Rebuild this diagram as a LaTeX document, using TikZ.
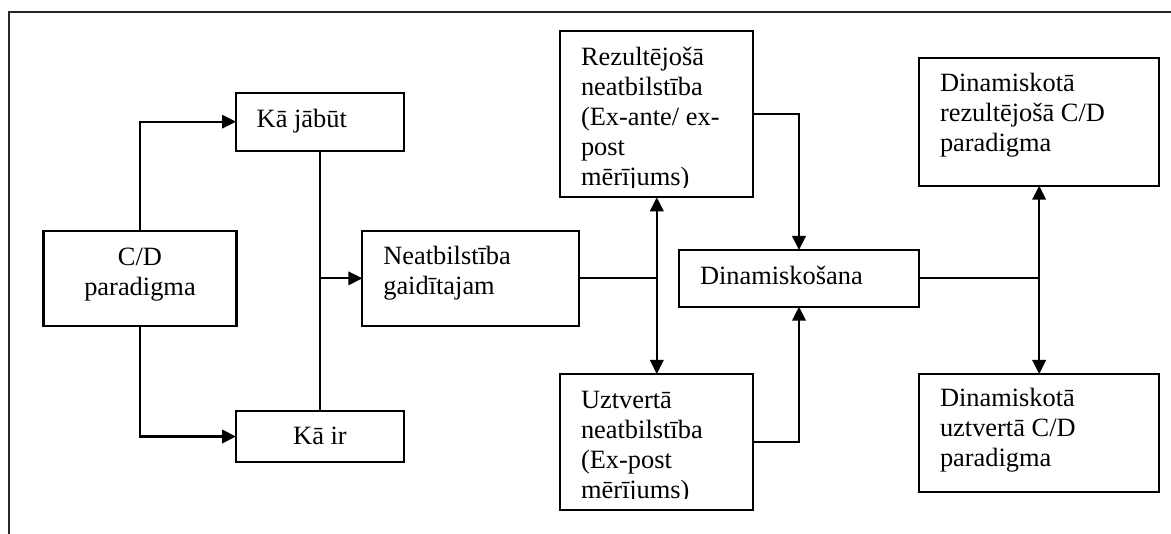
\documentclass[tikz,border=0pt]{standalone}
\usepackage{fontspec}
\setmainfont{Liberation Serif}
\usetikzlibrary{arrows.meta}

% stacked lines of text whose baseline is the baseline of the first line
\newcommand\leftlines[1]{\vtop{\baselineskip=30pt\lineskiplimit=-\maxdimen\halign{##\hfil\cr#1\crcr}}}
\newcommand\centerlines[1]{\vtop{\baselineskip=30pt\lineskiplimit=-\maxdimen\halign{\hfil##\hfil\cr#1\crcr}}}

\tikzset{
  box/.style={draw, line width=2.1pt, rectangle, inner sep=0pt, outer sep=0pt, anchor=north west},
  txt/.style={inner sep=0pt, outer sep=0pt, font=\fontsize{26.4pt}{30pt}\selectfont},
  conn/.style={line width=2.1pt},
  tip/.style={-{Triangle[length=14pt,width=13.5pt]}},
  both/.style={{Triangle[length=14pt,width=13.5pt]}-{Triangle[length=14pt,width=13.5pt]}},
  frame/.style={line width=1.9pt, black!85}
}

\begin{document}
\begin{tikzpicture}[x=1pt,y=-1pt]
\useasboundingbox (0,0) rectangle (1171,534);

% open outer frame
\coordinate (fa) at (1171,12);
\coordinate (fb) at (9,12);
\coordinate (fc) at (9,534);
\draw[frame] (fa) -- (fb) -- (fc);

% boxes
\node[box, minimum width=193pt,   minimum height=94.7pt]  (cd)  at (43.5,231)  {};
\node[box, minimum width=168.3pt, minimum height=58pt]    (jab) at (236,92.7)  {};
\node[box, minimum width=168.3pt, minimum height=50.4pt]  (ir)  at (236,411.3) {};
\node[box, minimum width=216.7pt, minimum height=94.7pt]  (neat) at (362.3,231) {};
\node[box, minimum width=193pt,   minimum height=166pt]   (rez) at (560.3,31.3) {};
\node[box, minimum width=193pt,   minimum height=136pt]   (uzt) at (560.3,374) {};
\node[box, minimum width=240pt,   minimum height=56.7pt]  (din) at (679,250)   {};
\node[box, minimum width=240.3pt, minimum height=127.7pt] (dr)  at (919,58)    {};
\node[box, minimum width=240.3pt, minimum height=117.7pt] (du)  at (919,374)   {};

% texts
\node[txt, anchor=base] (cdT) at (140,265.7) {\centerlines{C/D\cr paradigma}};
\node[txt, anchor=base west] (jabT) at (256.7,127.3) {Kā jābūt};
\node[txt, anchor=base] (irT) at (320,445) {Kā ir};
\node[txt, anchor=base west] (neatT) at (383.3,265) {\leftlines{Neatbilstība\cr gaidītajam}};
\begin{scope}
  \clip (561,32) rectangle (752,187.7);
  \node[txt, anchor=base west] (rezT) at (581,65.7)
    {\leftlines{Rezultējošā\cr neatbilstība\cr (Ex-ante/ ex-\cr post\cr mērījums)}};
\end{scope}
\begin{scope}
  \clip (561,375) rectangle (752,499);
  \node[txt, anchor=base west] (uztT) at (581,408.3)
    {\leftlines{Uztvertā\cr neatbilstība\cr (Ex-post\cr mērījums)}};
\end{scope}
\node[txt, anchor=base west] (dinT) at (700,285) {Dinamiskošana};
\node[txt, anchor=base west] (drT) at (940,91.7) {\leftlines{Dinamiskotā\cr rezultējošā C/D\cr paradigma}};
\node[txt, anchor=base west] (duT) at (940,406.7) {\leftlines{Dinamiskotā\cr uztvertā C/D\cr paradigma}};

% connectors
\draw[conn, tip] (cd.north) |- (jab.west);
\draw[conn, tip] (cd.south) |- (ir.west);
\draw[conn] (jab.south) -- (ir.north);
\coordinate (j1) at (jab.south |- neat.west);
\draw[conn, tip] (j1) -- (neat.west);

\coordinate (n1) at (rez.south |- neat.east);
\draw[conn] (neat.east) -- (n1);
\draw[conn, both] (rez.south) -- (uzt.north);

\draw[conn, tip] (rez.east) -| (din.north);
\draw[conn, tip] (uzt.east) -| (din.south);

\coordinate (d1) at (dr.south |- din.east);
\draw[conn] (din.east) -- (d1);
\draw[conn, both] (dr.south) -- (du.north);
\end{tikzpicture}
\end{document}
